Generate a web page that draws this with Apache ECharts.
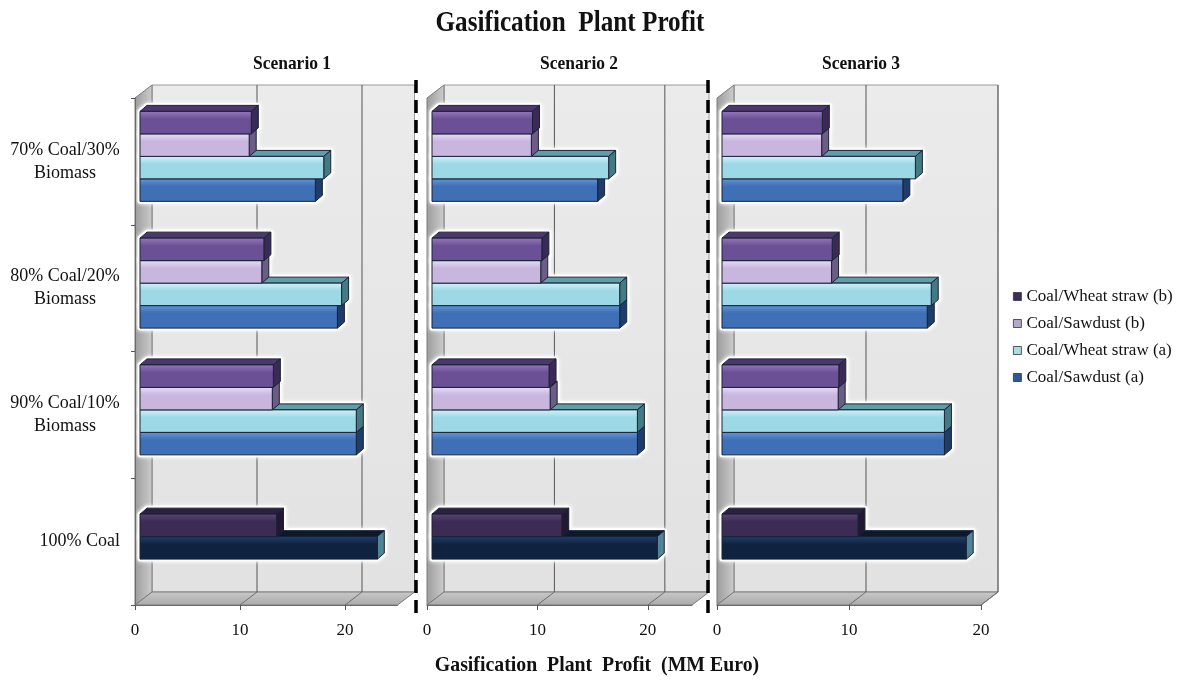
<!DOCTYPE html>
<html>
<head>
<meta charset="utf-8">
<title>Gasification Plant Profit</title>
<script src="https://cdn.jsdelivr.net/npm/echarts@6/dist/echarts.min.js"></script>
<style>
  html, body { margin: 0; padding: 0; background: #fff; }
  #chart { width: 1182px; height: 682px; }
</style>
</head>
<body>
<div id="chart"></div>
<script>
// Blend categories (top to bottom) and legend entries
const categories = ['70% Coal/30%\nBiomass', '80% Coal/20%\nBiomass', '90% Coal/10%\nBiomass', '100% Coal'];
const scenarios = ['Scenario 1', 'Scenario 2', 'Scenario 3'];
const legendNames = ['Coal/Wheat straw (b)', 'Coal/Sawdust (b)', 'Coal/Wheat straw (a)', 'Coal/Sawdust (a)'];

// Profit (MM Euro) per scenario; each inner list covers 70 / 80 / 90 % coal
const wheatStrawB = [[10.6, 11.8, 12.7], [9.1, 9.95, 10.6], [7.6, 8.35, 8.85]];
const sawdustB    = [[10.4, 11.6, 12.6], [9.0, 9.85, 10.7], [7.55, 8.3, 8.8]];
const wheatStrawA = [[17.5, 19.2, 20.6], [16.0, 17.0, 18.6], [14.65, 15.85, 16.85]];
const sawdustA    = [[16.7, 18.8, 20.6], [15.0, 17.0, 18.6], [13.7, 15.55, 16.85]];

// 100 % coal case, one value per scenario
const coalOnlyB = [13.0, 11.75, 10.3];
const coalOnlyA = [22.6, 20.4, 18.5];

// Value-axis extent per scenario panel
const axisMax = [25, 24, 20];
const tickStep = 10;

const FONT = '"Liberation Serif", "Times New Roman", serif';

// 3D geometry helpers
const WALL_D = 17, WALL_E = 13;      // depth of the box (x, up)
const BAR_SX = 5, BAR_SY = 5;        // bar front plane shift inside the box
const BAR_D = 7, BAR_E = 6;          // bar depth
const SLOTS = 4, FILL = 0.71;

const palettes = {
  wheatB:   { front: ['#9479bf', '#6c5096'], top: '#4d386d', side: '#3b2a56', legend: '#3b2d55' },
  sawdustB: { front: ['#e8def3', '#c8b6df'], top: '#8f7fae', side: '#6b5d86', legend: '#b3a9c9' },
  wheatA:   { front: ['#d2f3f9', '#9dd8e6'], top: '#5f9ea8', side: '#447a84', legend: '#a9dde6' },
  sawdustA: { front: ['#6595d6', '#3f6fb4'], top: '#2d5892', side: '#1e3d6b', legend: '#2f5a8f' },
  coalB:    { front: ['#5a4672', '#3c2b54'], top: '#2c1f40', side: '#231834' },
  coalA:    { front: ['#22406a', '#0f2340'], top: '#0b192e', side: '#4f8596' }
};

function barBox(api, value, cat, slot) {
  const p0 = api.coord([0, cat]);
  const p1 = api.coord([value, cat]);
  const band = api.size([0, 1])[1];
  const h = band * FILL / SLOTS;
  const top = p0[1] - (SLOTS / 2) * h + slot * h - BAR_SY;
  return { xa: p0[0] + BAR_SX, xb: p1[0] + BAR_SX, ya: top, yb: top + h };
}

function makeBarRenderer(slot, pal) {
  return function (params, api) {
    const b = barBox(api, api.value(0), api.value(1), slot);
    const z2 = 10 + (SLOTS - slot) * 3;
    const edge = { stroke: '#1a2236', lineWidth: 1, lineJoin: 'round' };
    return {
      type: 'group',
      children: [
        {
          type: 'polygon', z2: z2,
          shape: { points: [[b.xa, b.ya], [b.xb, b.ya], [b.xb + BAR_D, b.ya - BAR_E], [b.xa + BAR_D, b.ya - BAR_E]] },
          style: Object.assign({ fill: pal.top }, edge)
        },
        {
          type: 'polygon', z2: z2,
          shape: { points: [[b.xb, b.ya], [b.xb + BAR_D, b.ya - BAR_E], [b.xb + BAR_D, b.yb - BAR_E], [b.xb, b.yb]] },
          style: Object.assign({ fill: pal.side }, edge)
        },
        {
          type: 'rect', z2: z2 + 1,
          shape: { x: b.xa, y: b.ya, width: b.xb - b.xa, height: b.yb - b.ya },
          style: Object.assign({
            fill: new echarts.graphic.LinearGradient(0, 0, 0, 1, [
              { offset: 0, color: pal.front[0] },
              { offset: 0.35, color: pal.front[1] },
              { offset: 1, color: pal.front[1] }
            ])
          }, edge)
        }
      ]
    };
  };
}

function haloRender(params, api) {
  const b = barBox(api, api.value(0), api.value(1), api.value(2));
  return {
    type: 'polygon',
    shape: {
      points: [[b.xa, b.ya], [b.xa + BAR_D, b.ya - BAR_E], [b.xb + BAR_D, b.ya - BAR_E],
               [b.xb + BAR_D, b.yb - BAR_E], [b.xb, b.yb], [b.xa, b.yb]]
    },
    style: { fill: '#ffffff', stroke: '#ffffff', lineWidth: 5, lineJoin: 'round',
             shadowBlur: 4, shadowColor: 'rgba(255,255,255,0.95)' }
  };
}

function makeWallRenderer(max) {
  return function (params, api) {
    const cs = params.coordSys;
    const x = cs.x, y = cs.y, w = cs.width, h = cs.height;
    const kids = [
      {
        type: 'rect',
        shape: { x: x + WALL_D, y: y - WALL_E, width: w, height: h },
        style: {
          fill: new echarts.graphic.LinearGradient(0, 0, 0, 1, [
            { offset: 0, color: '#ebebeb' }, { offset: 1, color: '#e2e2e2' }
          ]),
          stroke: '#9a9a9a', lineWidth: 1
        }
      },
      {
        type: 'polygon',
        shape: { points: [[x, y + h], [x, y], [x + WALL_D, y - WALL_E], [x + WALL_D, y + h - WALL_E]] },
        style: {
          fill: new echarts.graphic.LinearGradient(0, 0, 1, 0, [
            { offset: 0, color: '#9c9c9c' }, { offset: 0.6, color: '#b9b9b9' }, { offset: 1, color: '#cdcdcd' }
          ]),
          stroke: '#7a7a7a', lineWidth: 1
        }
      },
      {
        type: 'polygon',
        shape: { points: [[x, y + h], [x + w, y + h], [x + w + WALL_D, y + h - WALL_E], [x + WALL_D, y + h - WALL_E]] },
        style: {
          fill: new echarts.graphic.LinearGradient(0, 0, 0, 1, [
            { offset: 0, color: '#c9c9c9' }, { offset: 1, color: '#a9a9a9' }
          ]),
          stroke: '#7a7a7a', lineWidth: 1
        }
      }
    ];
    for (let v = tickStep; v <= max; v += tickStep) {
      const px = api.coord([v, 0])[0];
      kids.push({
        type: 'line',
        shape: { x1: px + WALL_D, y1: y - WALL_E, x2: px + WALL_D, y2: y + h - WALL_E },
        style: { stroke: '#555555', lineWidth: 1 }
      });
      kids.push({
        type: 'line',
        shape: { x1: px, y1: y + h, x2: px + WALL_D, y2: y + h - WALL_E },
        style: { stroke: '#6e6e6e', lineWidth: 1 }
      });
    }
    return { type: 'group', children: kids };
  };
}

const gridLayout = [
  { left: 135, width: 262.5 },
  { left: 427, width: 265 },
  { left: 717, width: 264 }
];

const blendSets = [
  { name: legendNames[3], values: sawdustA, slot: 3, pal: palettes.sawdustA },
  { name: legendNames[2], values: wheatStrawA, slot: 2, pal: palettes.wheatA },
  { name: legendNames[1], values: sawdustB, slot: 1, pal: palettes.sawdustB },
  { name: legendNames[0], values: wheatStrawB, slot: 0, pal: palettes.wheatB }
];

const series = [];
scenarios.forEach(function (sc, g) {
  series.push({
    type: 'custom', name: 'wall' + g, xAxisIndex: g, yAxisIndex: g, z: 1, silent: true,
    renderItem: makeWallRenderer(axisMax[g]), data: [[0, 0]], encode: { x: 0, y: 1 }
  });
  const haloData = [];
  blendSets.forEach(function (s) {
    s.values[g].forEach(function (v, ci) { haloData.push([v, ci, s.slot]); });
  });
  haloData.push([coalOnlyA[g], 3, 2]);
  haloData.push([coalOnlyB[g], 3, 1]);
  series.push({
    type: 'custom', name: 'halo' + g, xAxisIndex: g, yAxisIndex: g, z: 2, silent: true,
    renderItem: haloRender, data: haloData, encode: { x: 0, y: 1 }
  });
  blendSets.forEach(function (s) {
    series.push({
      type: 'custom', name: s.name, xAxisIndex: g, yAxisIndex: g, z: 3,
      itemStyle: { color: s.pal.legend },
      renderItem: makeBarRenderer(s.slot, s.pal),
      data: s.values[g].map(function (v, ci) { return [v, ci]; }),
      encode: { x: 0, y: 1 }
    });
  });
  series.push({
    type: 'custom', name: 'Coal (a)', xAxisIndex: g, yAxisIndex: g, z: 3,
    renderItem: makeBarRenderer(2, palettes.coalA),
    data: [[coalOnlyA[g], 3]], encode: { x: 0, y: 1 }
  });
  series.push({
    type: 'custom', name: 'Coal (b)', xAxisIndex: g, yAxisIndex: g, z: 3,
    renderItem: makeBarRenderer(1, palettes.coalB),
    data: [[coalOnlyB[g], 3]], encode: { x: 0, y: 1 }
  });
});

const scenarioCenters = [292, 579, 861];
const graphics = [
  {
    type: 'text', x: 570, y: 23, scaleX: 0.84, z: 10,
    style: { text: 'Gasification  Plant Profit', x: 0, y: 0, textAlign: 'center', textVerticalAlign: 'middle',
             font: 'bold 30px ' + FONT, fill: '#111' }
  },
  {
    type: 'text', x: 597, y: 665, scaleX: 0.9, z: 10,
    style: { text: 'Gasification  Plant  Profit  (MM Euro)', x: 0, y: 0, textAlign: 'center', textVerticalAlign: 'middle',
             font: 'bold 22px ' + FONT, fill: '#111' }
  }
];
scenarios.forEach(function (sc, i) {
  graphics.push({
    type: 'text', x: scenarioCenters[i], y: 64, scaleX: 0.92, z: 10,
    style: { text: sc, x: 0, y: 0, textAlign: 'center', textVerticalAlign: 'middle',
             font: 'bold 19px ' + FONT, fill: '#111' }
  });
});
[416, 708].forEach(function (xPos) {
  graphics.push({
    type: 'line', z: 20,
    shape: { x1: xPos, y1: 80, x2: xPos, y2: 618 },
    style: { stroke: '#000', lineWidth: 3.5, lineDash: [13, 7] }
  });
});

const option = {
  animation: false,
  backgroundColor: '#ffffff',
  legend: {
    orient: 'vertical', left: 1008, top: 283,
    itemWidth: 8, itemHeight: 8, itemGap: 10, icon: 'rect',
    selectedMode: false,
    textStyle: { fontFamily: FONT, fontSize: 17, color: '#111', lineHeight: 17 },
    data: legendNames.map(function (n, i) {
      const keys = ['wheatB', 'sawdustB', 'wheatA', 'sawdustA'];
      return { name: n, itemStyle: { color: palettes[keys[i]].legend, borderColor: '#333', borderWidth: 0.8 } };
    })
  },
  grid: gridLayout.map(function (gl) {
    return { left: gl.left, width: gl.width, top: 98, height: 507 };
  }),
  xAxis: scenarios.map(function (sc, i) {
    return {
      type: 'value', gridIndex: i, min: 0, max: axisMax[i], interval: tickStep, z: 5,
      axisLine: { show: true, lineStyle: { color: '#6b6b6b', width: 1 } },
      axisTick: { show: true, length: 5, lineStyle: { color: '#555' } },
      axisLabel: { showMaxLabel: axisMax[i] % tickStep === 0, margin: 17,
                   fontFamily: FONT, fontSize: 17, color: '#111' },
      splitLine: { show: false }
    };
  }),
  yAxis: scenarios.map(function (sc, i) {
    return {
      type: 'category', gridIndex: i, data: categories, inverse: true, z: 5,
      axisLine: { show: i === 0, lineStyle: { color: '#6b6b6b' } },
      axisTick: { show: i === 0, length: 4, lineStyle: { color: '#555' } },
      splitLine: { show: false },
      axisLabel: {
        show: i === 0, margin: 15, align: 'right',
        fontFamily: FONT, fontSize: 18, color: '#111', lineHeight: 23,
        formatter: function (v) {
          return v.indexOf('\n') >= 0
            ? v.split('\n').map(function (s) { return '{w|' + s + '}'; }).join('\n')
            : v;
        },
        rich: { w: { width: 110, align: 'center', fontFamily: FONT, fontSize: 18, lineHeight: 23, color: '#111' } }
      }
    };
  }),
  graphic: graphics,
  series: series
};

const chart = echarts.init(document.getElementById('chart'), null, { renderer: 'canvas' });
chart.setOption(option);
</script>
</body>
</html>
